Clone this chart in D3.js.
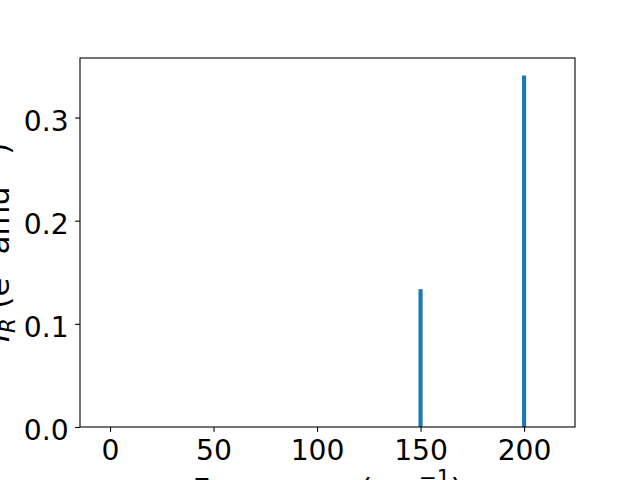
<!DOCTYPE html>
<html>
<head>
<meta charset="utf-8">
<script src="https://cdn.jsdelivr.net/npm/d3@7"></script>
<style>
  body { margin: 0; background: #fff; }
  svg { display: block; }
  text { font-family: "DejaVu Sans", sans-serif; fill: #000; }
</style>
</head>
<body>
<div class="chart"></div>
<script>
// Data
const frequencies = [150, 200];
const intensities = [0.1336, 0.3407];
const xTicks = [0, 50, 100, 150, 200];
const yTicks = [0.0, 0.1, 0.2, 0.3];
const barWidth = 2; // in cm^-1

const width = 640, height = 480;
const margin = { top: 58, right: 65, bottom: 53, left: 80 };
const chartWidth = width - margin.left - margin.right;
const chartHeight = height - margin.top - margin.bottom;
const tickFont = 28.2;
const labelFont = 30.6;
const supFont = 21.4;

const svg = d3.select(".chart").append("svg")
  .attr("width", width)
  .attr("height", height);

const chart = svg.append("g")
  .attr("transform", `translate(${margin.left}, ${margin.top})`);

const xScale = d3.scaleLinear().domain([-14.5, 224.6]).range([0, chartWidth]);
const yScale = d3.scaleLinear().domain([0, 0.3577]).range([chartHeight, 0]);

// Bars
chart.append("g").attr("class", "bars")
  .selectAll("rect")
  .data(frequencies.map((f, i) => ({ f, v: intensities[i] })))
  .join("rect")
  .attr("x", d => xScale(d.f - barWidth / 2))
  .attr("width", d => xScale(d.f + barWidth / 2) - xScale(d.f - barWidth / 2))
  .attr("y", d => yScale(d.v))
  .attr("height", d => yScale(0) - yScale(d.v))
  .attr("fill", "#1f77b4");

// Axes
const xAxis = chart.append("g")
  .attr("transform", `translate(0, ${chartHeight})`)
  .call(d3.axisBottom(xScale).tickValues(xTicks).tickFormat(d3.format("d"))
    .tickSize(4.86).tickPadding(4.86).tickSizeOuter(0));

const yAxis = chart.append("g")
  .call(d3.axisLeft(yScale).tickValues(yTicks).tickFormat(d3.format(".1f"))
    .tickSize(4.86).tickPadding(6.5).tickSizeOuter(0));

[xAxis, yAxis].forEach(ax => {
  ax.attr("font-size", tickFont).attr("font-family", "DejaVu Sans");
  ax.select(".domain").remove();
  ax.selectAll(".tick line").attr("stroke", "#000").attr("stroke-width", 1.1);
  ax.selectAll(".tick text").attr("font-size", tickFont);
});
xAxis.selectAll(".tick text").attr("dy", "0.84em");
yAxis.selectAll(".tick text").attr("dy", "0.45em");

// Frame
chart.append("rect")
  .attr("width", chartWidth)
  .attr("height", chartHeight)
  .attr("fill", "none")
  .attr("stroke", "#000")
  .attr("stroke-width", 1.1);

// Axis labels
const xLabel = svg.append("text")
  .attr("x", margin.left + chartWidth / 2)
  .attr("y", 500)
  .attr("text-anchor", "middle")
  .attr("font-size", labelFont);
xLabel.append("tspan").text("Frequency (cm");
xLabel.append("tspan").attr("dy", -15).attr("font-size", supFont).text("\u22121");
xLabel.append("tspan").attr("dy", 15).text(")");

const yLabel = svg.append("text")
  .attr("transform", `translate(9, ${margin.top + chartHeight / 2}) rotate(-90)`)
  .attr("text-anchor", "middle")
  .attr("font-size", labelFont);
yLabel.append("tspan").attr("font-style", "italic").text("I");
yLabel.append("tspan").attr("font-style", "italic").attr("dy", 6).attr("font-size", supFont).text("R");
yLabel.append("tspan").attr("dy", -6).text(" (e");
yLabel.append("tspan").attr("dy", -15).attr("font-size", supFont).text("2");
yLabel.append("tspan").attr("dy", 15).text(" amu");
yLabel.append("tspan").attr("dy", -15).attr("font-size", supFont).text("\u22121");
yLabel.append("tspan").attr("dy", 15).text(")");
</script>
</body>
</html>
